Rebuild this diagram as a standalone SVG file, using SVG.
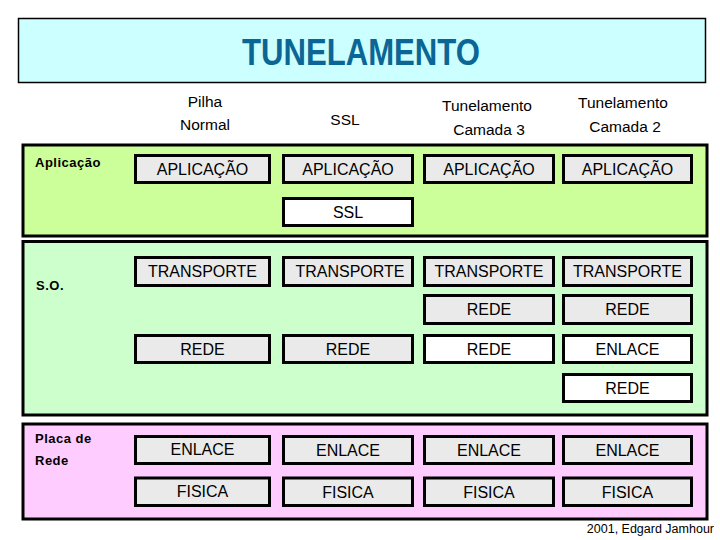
<svg xmlns="http://www.w3.org/2000/svg" width="720" height="540" viewBox="0 0 720 540">
<style>
.region{stroke:#000;stroke-width:3}
.box{stroke:#000;stroke-width:3}
.gray{fill:#EAEAEA}
.white{fill:#FFFFFF}
.t{font-family:"Liberation Sans",Arial,sans-serif;font-size:16px;fill:#000;text-anchor:middle}
.h{font-family:"Liberation Sans",Arial,sans-serif;font-size:15.5px;fill:#000;text-anchor:middle}
.lbl{font-family:"Liberation Sans",Arial,sans-serif;font-size:13px;font-weight:bold;fill:#000;letter-spacing:0.5px}
</style>
<rect width="720" height="540" fill="#FFFFFF"/>
<g id="title">
<rect x="18.5" y="18.5" width="687" height="64" fill="#CCFFFF" stroke="#000" stroke-width="1.5"/>
<text x="361" y="65" font-family="Liberation Sans,Arial,sans-serif" font-size="36" font-weight="bold" fill="#0A6694" text-anchor="middle" textLength="238" lengthAdjust="spacingAndGlyphs">TUNELAMENTO</text>
</g>
<g id="headers">
<text class="h" x="205" y="107">Pilha</text>
<text class="h" x="205" y="130">Normal</text>
<text class="h" x="345" y="125">SSL</text>
<text class="h" x="487" y="111">Tunelamento</text>
<text class="h" x="489" y="135">Camada 3</text>
<text class="h" x="623" y="108">Tunelamento</text>
<text class="h" x="625" y="132">Camada 2</text>
</g>
<g id="region-aplicacao">
<rect class="region" x="23" y="145" width="684" height="91" fill="#CCFF99"/>
<text class="lbl" x="35" y="167">Aplicação</text>
</g>
<g id="region-so">
<rect class="region" x="23" y="241.5" width="684" height="173.5" fill="#CCFFCC"/>
<text class="lbl" x="36" y="290">S.O.</text>
</g>
<g id="region-placa">
<rect class="region" x="23" y="424" width="684" height="95" fill="#FFCCFF"/>
<text class="lbl" x="35" y="443">Placa de</text>
<text class="lbl" x="35" y="465">Rede</text>
</g>
<g id="connectors"></g>
<g id="c1-aplicacao"><rect class="box gray" x="135.5" y="155.5" width="134" height="27"/><text class="t" x="202.5" y="175">APLICAÇÃO</text></g>
<g id="c2-aplicacao"><rect class="box gray" x="283.5" y="155.5" width="129" height="27"/><text class="t" x="348" y="175">APLICAÇÃO</text></g>
<g id="c3-aplicacao"><rect class="box gray" x="424.5" y="155.5" width="129" height="27"/><text class="t" x="489" y="175">APLICAÇÃO</text></g>
<g id="c4-aplicacao"><rect class="box gray" x="563.5" y="155.5" width="128" height="27"/><text class="t" x="627.5" y="175">APLICAÇÃO</text></g>
<g id="c2-ssl"><rect class="box white" x="283.5" y="198.5" width="129" height="27"/><text class="t" x="348" y="218">SSL</text></g>
<g id="c1-transporte"><rect class="box gray" x="135.5" y="257.5" width="134" height="28"/><text class="t" x="202.5" y="277">TRANSPORTE</text></g>
<g id="c2-transporte"><rect class="box gray" x="283.5" y="257.5" width="129" height="28"/><text class="t" x="350" y="277">TRANSPORTE</text></g>
<g id="c3-transporte"><rect class="box gray" x="424.5" y="257.5" width="129" height="28"/><text class="t" x="489" y="277">TRANSPORTE</text></g>
<g id="c4-transporte"><rect class="box gray" x="563.5" y="257.5" width="128" height="28"/><text class="t" x="627.5" y="277">TRANSPORTE</text></g>
<g id="c3-rede-a"><rect class="box gray" x="424.5" y="295.5" width="129" height="28"/><text class="t" x="489" y="315">REDE</text></g>
<g id="c4-rede-a"><rect class="box gray" x="563.5" y="295.5" width="128" height="28"/><text class="t" x="627.5" y="315">REDE</text></g>
<g id="c1-rede"><rect class="box gray" x="135.5" y="335.5" width="134" height="27"/><text class="t" x="202.5" y="355">REDE</text></g>
<g id="c2-rede"><rect class="box gray" x="283.5" y="335.5" width="129" height="27"/><text class="t" x="348" y="355">REDE</text></g>
<g id="c3-rede-b"><rect class="box white" x="424.5" y="335.5" width="129" height="27"/><text class="t" x="489" y="355">REDE</text></g>
<g id="c4-enlace-tunel"><rect class="box white" x="563.5" y="335.5" width="128" height="27"/><text class="t" x="627.5" y="355">ENLACE</text></g>
<g id="c4-rede-b"><rect class="box white" x="563.5" y="374.5" width="128" height="27"/><text class="t" x="627.5" y="394">REDE</text></g>
<g id="c1-enlace"><rect class="box gray" x="135.5" y="436.5" width="134" height="27"/><text class="t" x="202.5" y="455">ENLACE</text></g>
<g id="c2-enlace"><rect class="box gray" x="283.5" y="436.5" width="129" height="27"/><text class="t" x="348" y="456">ENLACE</text></g>
<g id="c3-enlace"><rect class="box gray" x="424.5" y="436.5" width="129" height="27"/><text class="t" x="489" y="456">ENLACE</text></g>
<g id="c4-enlace"><rect class="box gray" x="563.5" y="436.5" width="128" height="27"/><text class="t" x="627.5" y="456">ENLACE</text></g>
<g id="c1-fisica"><rect class="box gray" x="135.5" y="478" width="134" height="27.5"/><text class="t" x="202.5" y="497">FISICA</text></g>
<g id="c2-fisica"><rect class="box gray" x="283.5" y="478" width="129" height="27.5"/><text class="t" x="348" y="498">FISICA</text></g>
<g id="c3-fisica"><rect class="box gray" x="424.5" y="478" width="129" height="27.5"/><text class="t" x="489" y="498">FISICA</text></g>
<g id="c4-fisica"><rect class="box gray" x="563.5" y="478" width="128" height="27.5"/><text class="t" x="627.5" y="498">FISICA</text></g>
<text x="714" y="533" font-family="Liberation Sans,Arial,sans-serif" font-size="12.5" fill="#000" text-anchor="end">2001, Edgard Jamhour</text>
</svg>
